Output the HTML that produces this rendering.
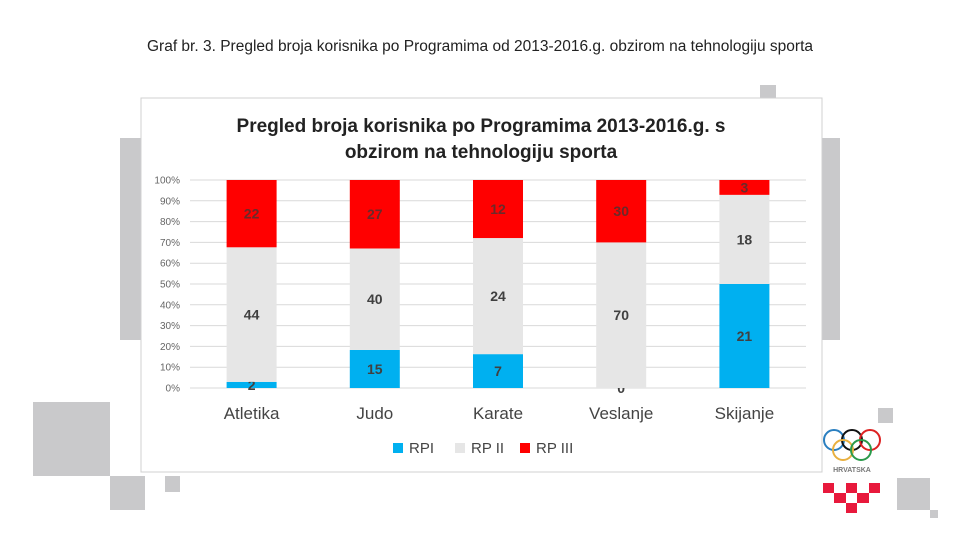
<!DOCTYPE html>
<html><head><meta charset="utf-8"><style>
body{margin:0;width:960px;height:540px;background:#fff;position:relative;overflow:hidden;font-family:"Liberation Sans","DejaVu Sans",sans-serif}
.sq{position:absolute;background:#c9c9cb}
</style></head><body>
<div class="sq" style="left:120px;top:138px;width:230px;height:202px"></div>
<div class="sq" style="left:800px;top:138px;width:40px;height:202px"></div>
<div class="sq" style="left:33px;top:402px;width:77px;height:74px"></div>
<div class="sq" style="left:110px;top:476px;width:35px;height:34px"></div>
<div class="sq" style="left:165px;top:476px;width:15px;height:16px"></div>
<div class="sq" style="left:760px;top:85px;width:16px;height:15px"></div>
<div class="sq" style="left:878px;top:408px;width:15px;height:15px"></div>
<div class="sq" style="left:897px;top:478px;width:33px;height:32px"></div>
<div class="sq" style="left:930px;top:510px;width:8px;height:8px"></div>
<div style="position:absolute;left:0;width:960px;top:38px;text-align:center;font-size:15.5px;color:#222">Graf br. 3. Pregled broja korisnika po Programima od 2013-2016.g. obzirom na tehnologiju sporta</div>
<svg id="ch" width="960" height="540" style="position:absolute;left:0;top:0">
<rect x="141" y="98" width="681" height="374" fill="#fff" stroke="#d0d0d0"/>
<text x="481" y="132" text-anchor="middle" font-size="19" font-weight="bold" fill="#222">Pregled broja korisnika po Programima 2013-2016.g. s</text>
<text x="481" y="158" text-anchor="middle" font-size="19" font-weight="bold" fill="#222">obzirom na tehnologiju sporta</text>
<g id="plot"></g>
<g>
<rect x="393" y="443" width="10" height="10" fill="#00b0f0"/><text x="409" y="453" font-size="15" fill="#444">RPI</text>
<rect x="455" y="443" width="10" height="10" fill="#e6e6e6"/><text x="471" y="453" font-size="15" fill="#444">RP II</text>
<rect x="520" y="443" width="10" height="10" fill="#ff0000"/><text x="536" y="453" font-size="15" fill="#444">RP III</text>
</g>
<g>
<circle cx="834" cy="440" r="10" fill="none" stroke="#2a7fc0" stroke-width="2"/>
<circle cx="852" cy="440" r="10" fill="none" stroke="#111" stroke-width="2"/>
<circle cx="870" cy="440" r="10" fill="none" stroke="#d22" stroke-width="2"/>
<circle cx="843" cy="450" r="10" fill="none" stroke="#e8b040" stroke-width="2"/>
<circle cx="861" cy="450" r="10" fill="none" stroke="#2a9a4a" stroke-width="2"/>
<text x="852" y="472" text-anchor="middle" font-size="7" font-weight="bold" fill="#777">HRVATSKA</text>
<g fill="#e8193c"><rect x="823" y="483" width="11" height="10"/><rect x="846" y="483" width="11" height="10"/><rect x="869" y="483" width="11" height="10"/><rect x="834" y="493" width="12" height="10"/><rect x="857" y="493" width="12" height="10"/><rect x="846" y="503" width="11" height="10"/></g>
</g>
</svg>
<script>
const categories=["Atletika","Judo","Karate","Veslanje","Skijanje"];
const rp1=[2,15,7,0,21];
const rp2=[44,40,24,70,18];
const rp3=[22,27,12,30,3];
const ticks=["0%","10%","20%","30%","40%","50%","60%","70%","80%","90%","100%"];
const NS="http://www.w3.org/2000/svg";
const g=document.getElementById("plot");
const x0=190,x1=806,y0=388,y1=180;
const y=p=>y0-(y0-y1)*p;
const xc=i=>x0+(x1-x0)/categories.length*(i+0.5);
function mk(t,a){const e=document.createElementNS(NS,t);for(const k in a)e.setAttribute(k,a[k]);g.appendChild(e);return e;}
ticks.forEach((t,i)=>{
 const l=mk("line",{x1:x0,x2:x1,y1:y(i/10),y2:y(i/10),stroke:"#d9d9d9"});
 
 
 const tx=mk("text",{x:180,y:y(i/10)+3.5,"text-anchor":"end","font-size":"10",fill:"#666"});
 tx.textContent=t;
 
 
});
const series=[[rp1,"#00b0f0"],[rp2,"#e6e6e6"],[rp3,"#ff0000"]];
categories.forEach((c,i)=>{
 const tot=rp1[i]+rp2[i]+rp3[i];let acc=0;
 series.forEach(([arr,col],s)=>{
  const v=arr[i],p0=acc/tot,p1=(acc+v)/tot;acc+=v;
  const r=mk("rect",{x:xc(i)-25,width:50,y:y(p1),height:y(p0)-y(p1),fill:col});
  
  
  const t=mk("text",{x:xc(i),y:y((p0+p1)/2)+5,"text-anchor":"middle","font-size":"14","font-weight":"bold",fill:s==2?"#6a2a2a":"#404040"});
  t.textContent=v;
  
  
 });
 const ct=mk("text",{x:xc(i),y:419,"text-anchor":"middle","font-size":"17",fill:"#444"});
 ct.textContent=c;
 
 
});
</script>
</body></html>
